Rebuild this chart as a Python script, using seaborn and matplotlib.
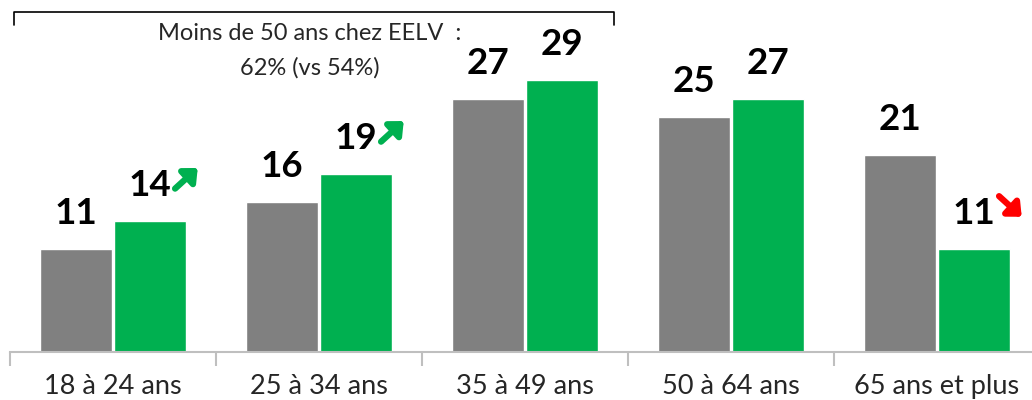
import pandas as pd
import numpy as np
import seaborn as sns
import matplotlib.pyplot as plt

categories = ['18 à 24 ans', '25 à 34 ans', '35 à 49 ans', '50 à 64 ans', '65 ans et plus']
ensemble = [11, 16, 27, 25, 21]
eelv = [14, 19, 29, 27, 11]
trend = [1, 1, 0, 0, -1]  # arrow next to EELV value: 1 up, -1 down, 0 none

df = pd.DataFrame({
    'cat': categories * 2,
    'val': ensemble + eelv,
    'serie': ['Ensemble'] * 5 + ['EELV'] * 5,
})

sns.set_style('white')
plt.rcParams['font.family'] = ['Lato', 'DejaVu Sans']

fig = plt.figure(figsize=(10.32, 4.0), dpi=100)
ax = fig.add_axes([10 / 1032, 48 / 400, 1030 / 1032, 338 / 400])

sns.barplot(data=df, x='cat', y='val', hue='serie', order=categories,
            hue_order=['Ensemble', 'EELV'],
            palette={'Ensemble': '#808080', 'EELV': '#00B050'},
            width=0.725, gap=0.04, legend=False, ax=ax, saturation=1)

ax.set_xlim(-0.5, 4.5)
ax.set_ylim(0, 36)
ax.set_xlabel('')
ax.set_ylabel('')
ax.set_yticks([])
for s in ['left', 'top', 'right']:
    ax.spines[s].set_visible(False)
ax.spines['bottom'].set_color('#BFBFBF')
ax.spines['bottom'].set_linewidth(1.5)
ax.tick_params(axis='x', which='major', length=0, labelsize=19.5, pad=16)
ax.set_xticks(np.arange(-0.5, 5.0, 1.0), minor=True)
ax.tick_params(axis='x', which='minor', bottom=True, length=10, width=1.5,
               color='#BFBFBF', direction='out')

for cont in ax.containers:
    for bar in cont:
        h = bar.get_height()
        cx = bar.get_x() + bar.get_width() / 2
        ax.text(cx, h + 2.0, f'{h:.0f}', ha='center', va='bottom',
                fontsize=26.5, fontweight='bold', color='black')

green_bars = ax.containers[1]
for bar, t in zip(green_bars, trend):
    if t == 0:
        continue
    h = bar.get_height()
    x0 = bar.get_x() + bar.get_width() / 2 + 0.12
    col = '#00B050' if t > 0 else '#FF0000'
    y_lo, y_hi = h + 3.4, h + 5.6
    if t > 0:
        start, end = (x0, y_lo), (x0 + 0.11, y_hi)
    else:
        start, end = (x0, y_hi), (x0 + 0.11, y_lo)
    ax.annotate('', xy=end, xytext=start,
                arrowprops=dict(arrowstyle='-|>,head_length=0.5,head_width=0.45',
                                color=col, lw=4.5, mutation_scale=14,
                                shrinkA=0, shrinkB=0))

# bracket above the three first groups
fx = lambda p: p / 1032
fy = lambda p: 1 - p / 400
fig.add_artist(plt.Line2D([fx(14), fx(14), fx(614), fx(614)],
                          [fy(25), fy(12), fy(12), fy(25)],
                          color='black', lw=1.2))
fig.text(fx(310), fy(33), 'Moins de 50 ans chez EELV  :', ha='center', va='center', fontsize=17)
fig.text(fx(310), fy(68), '62% (vs 54%)', ha='center', va='center', fontsize=17)

fig.savefig('out.png', dpi=100)
